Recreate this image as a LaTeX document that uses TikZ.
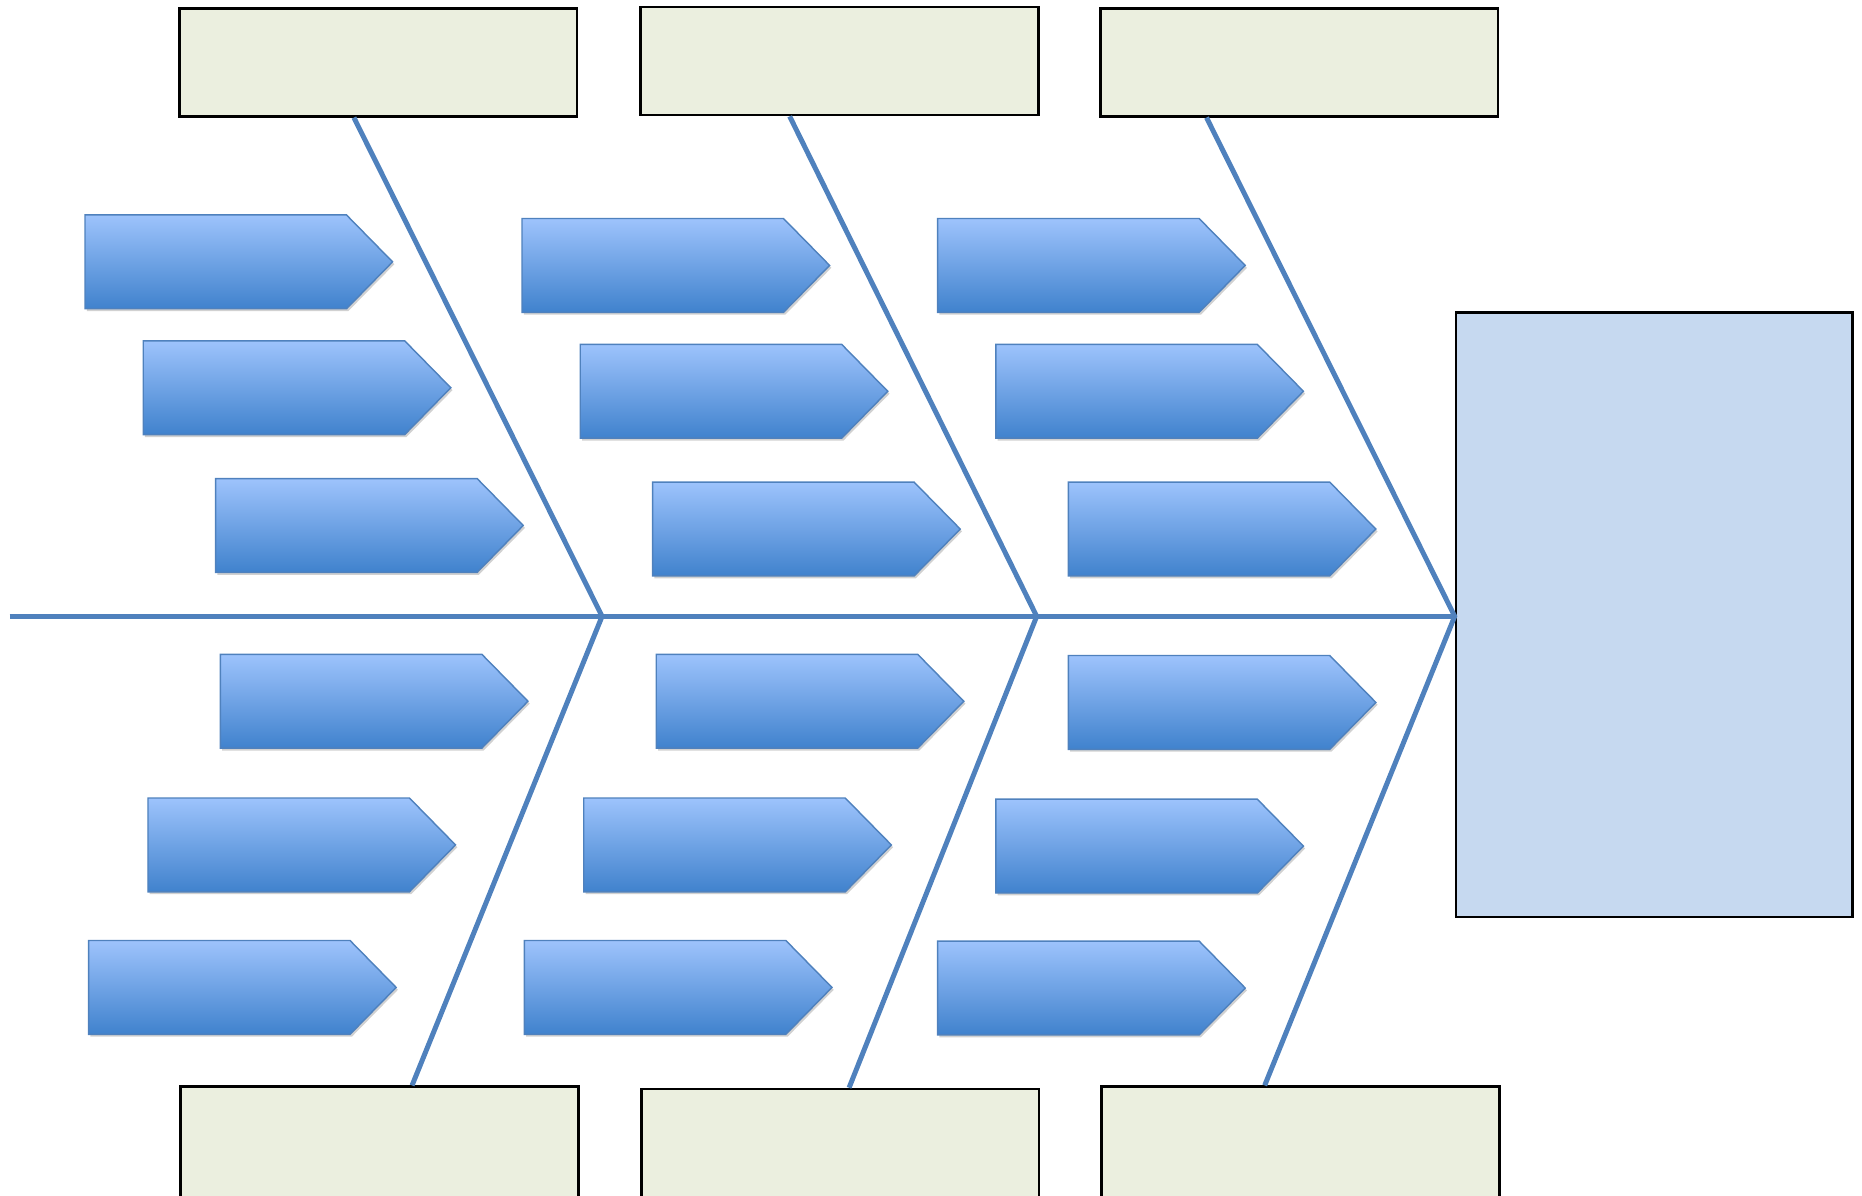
\documentclass[tikz,border=0pt]{standalone}
\usetikzlibrary{shapes.symbols,shadows}
\definecolor{bone}{RGB}{79,129,189}
\definecolor{catfill}{RGB}{235,239,223}
\definecolor{headfill}{RGB}{198,217,240}
\definecolor{arrtop}{RGB}{157,195,252}
\definecolor{arrbot}{RGB}{64,130,205}
\tikzset{
  catbox/.style={draw=black, line width=2.2pt, fill=catfill, rectangle, inner sep=0pt, minimum width=335pt, minimum height=91pt},
  headbox/.style={draw=black, line width=2pt, fill=headfill, rectangle, inner sep=0pt, minimum width=334pt, minimum height=509pt},
  bonel/.style={draw=bone, line width=4.2pt},
  spinel/.style={draw=bone, line width=4.6pt},
  causearrow/.style={signal, signal to=east, signal pointer angle=91, draw=bone, line width=1.2pt,
    top color=arrtop, bottom color=arrbot, minimum width=259pt, minimum height=79pt, inner sep=0pt, anchor=west,
    drop shadow={shadow xshift=1.5pt, shadow yshift=-2pt, opacity=0.3, fill=black!60}}
}
\begin{document}
\begin{tikzpicture}[x=1pt,y=-1pt]
\useasboundingbox (0,0) rectangle (1568,1007);
% category boxes
\node[catbox] (tA) at (318.5,52.5) {};
\node[catbox] (tB) at (707,51.5) {};
\node[catbox] (tC) at (1094,52.5) {};
\node[catbox, minimum height=97pt] (bA) at (319.5,963.5) {};
\node[catbox, minimum height=95pt] (bB) at (707.5,964.5) {};
\node[catbox, minimum height=97pt] (bC) at (1095,963.5) {};
% head
\node[headbox] (head) at (1393,517.5) {};
% junctions
\coordinate (tail) at (8,519);
\coordinate (j1) at (507,519);
\coordinate (j2) at (873,519);
\coordinate (j3) at (1225,519);
\coordinate (tA1) at (298,99);
\coordinate (tB1) at (665,98);
\coordinate (tC1) at (1016,99);
\coordinate (bA1) at (347,914);
\coordinate (bB1) at (715,916);
\coordinate (bC1) at (1065,914);
% bones
\draw[spinel] (tail) -- (j1) -- (j2) -- (j3);
\draw[bonel] (tA1) -- (j1) -- (bA1);
\draw[bonel] (tB1) -- (j2) -- (bB1);
\draw[bonel] (tC1) -- (j3) -- (bC1);
% cause arrows, top half
\node[causearrow] (a11) at (71,220.5) {};
\node[causearrow] (a12) at (120,326.5) {};
\node[causearrow] (a13) at (181,442.5) {};
\node[causearrow] (a21) at (439,223.5) {};
\node[causearrow] (a22) at (488,329.5) {};
\node[causearrow] (a23) at (549,445.5) {};
\node[causearrow] (a31) at (789,223.5) {};
\node[causearrow] (a32) at (838,329.5) {};
\node[causearrow] (a33) at (899,445.5) {};
% cause arrows, bottom half
\node[causearrow] (b11) at (185,590.5) {};
\node[causearrow] (b12) at (124,711.5) {};
\node[causearrow] (b13) at (74,831.5) {};
\node[causearrow] (b21) at (552,590.5) {};
\node[causearrow] (b22) at (491,711.5) {};
\node[causearrow] (b23) at (441,831.5) {};
\node[causearrow] (b31) at (899,591.5) {};
\node[causearrow] (b32) at (838,712.5) {};
\node[causearrow] (b33) at (789,832) {};
\end{tikzpicture}
\end{document}
